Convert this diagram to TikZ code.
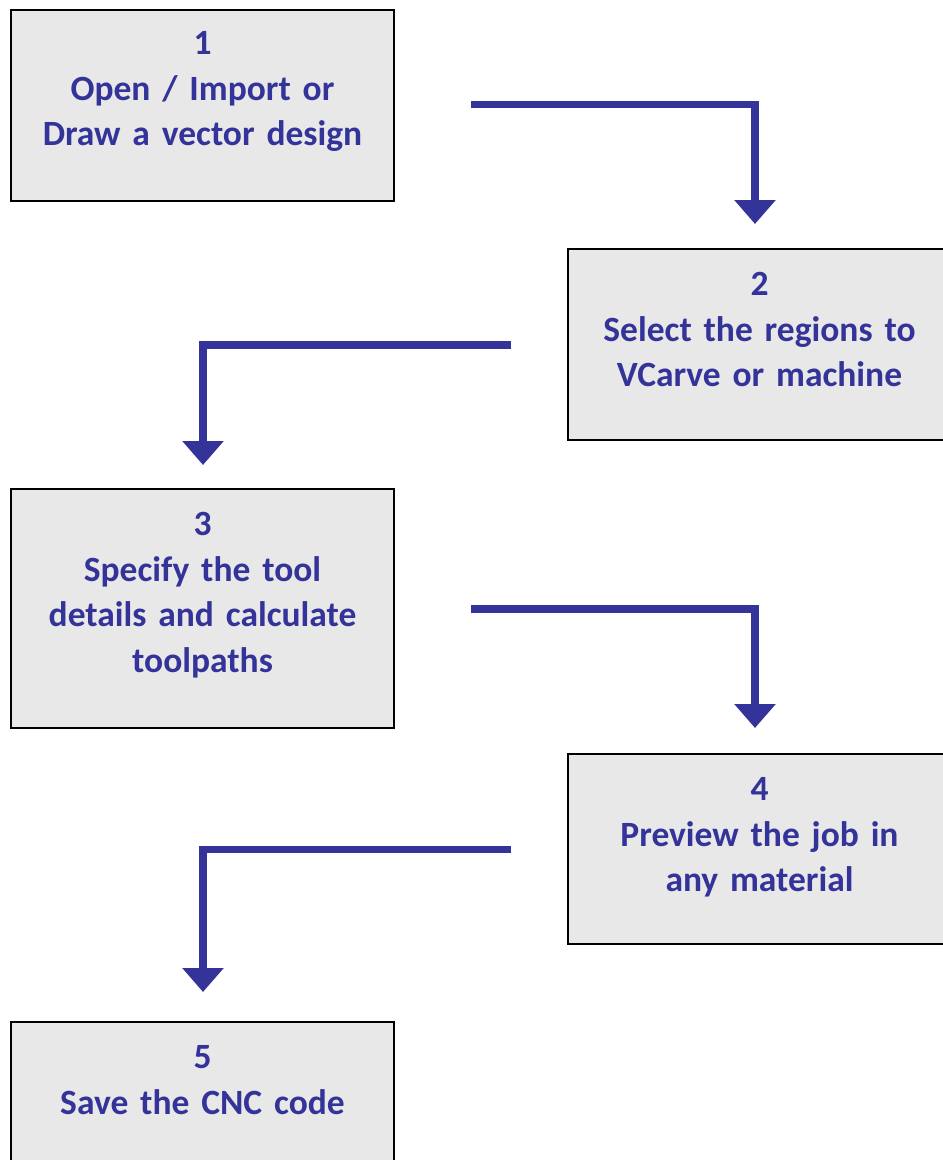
\documentclass[tikz,border=0pt]{standalone}
\usepackage{fontspec}
\setmainfont{Carlito}
\usepackage{tikz}
\usetikzlibrary{arrows.meta,positioning}

\definecolor{stepblue}{RGB}{51,51,153}
\definecolor{stepgray}{RGB}{232,232,232}

\tikzset{
  stepbox/.style={draw=black, line width=2pt, fill=stepgray, minimum width=383pt, inner sep=0pt, outer sep=0pt},
  steptext/.style={text=stepblue, font=\bfseries\fontsize{35.5}{45.5}\selectfont, text width=383pt, align=center, inner sep=0pt, outer sep=0pt, anchor=north},
  flow/.style={draw=stepblue, line width=7.5pt, line join=miter, -{Triangle[width=40pt,length=24pt]}}
}

\begin{document}
\begin{tikzpicture}[x=1pt,y=-1pt]
                \useasboundingbox (0,0) rectangle (943,1160);
                \node[stepbox, minimum height=191pt] (s1) at (202.5,105) {};
                \node[stepbox, minimum height=191pt] (s2) at (759.5,344.5) {};
                \node[stepbox, minimum height=239pt] (s3) at (202.5,608.5) {};
                \node[stepbox, minimum height=190pt] (s4) at (759.5,849) {};
                \node[stepbox, minimum height=190pt] (s5) at (202.5,1117) {};
                \node[steptext, below=22pt of s1.north] (t1) {1\\Open / Import or\\Draw a vector design};
                \node[steptext, below=23.5pt of s2.north] (t2) {2\\Select the regions to\\VCarve or machine};
                \node[steptext, below=23.5pt of s3.north] (t3) {3\\Specify the tool\\details and calculate\\toolpaths};
                \node[steptext, below=23.5pt of s4.north] (t4) {4\\Preview the job in\\any material};
                \node[steptext, below=23.5pt of s5.north] (t5) {5\\Save the CNC code};
                \coordinate (a1) at (471,104.5);
                \coordinate (b1) at (755,224);
                \coordinate (a2) at (511,345);
                \coordinate (b2) at (203,465);
                \coordinate (a3) at (471,609);
                \coordinate (b3) at (755,728);
                \coordinate (a4) at (511,849.5);
                \coordinate (b4) at (203,992);
                \draw[flow] (a1) -| (b1);
                \draw[flow] (a2) -| (b2);
                \draw[flow] (a3) -| (b3);
                \draw[flow] (a4) -| (b4);
        \end{tikzpicture}
\end{document}
